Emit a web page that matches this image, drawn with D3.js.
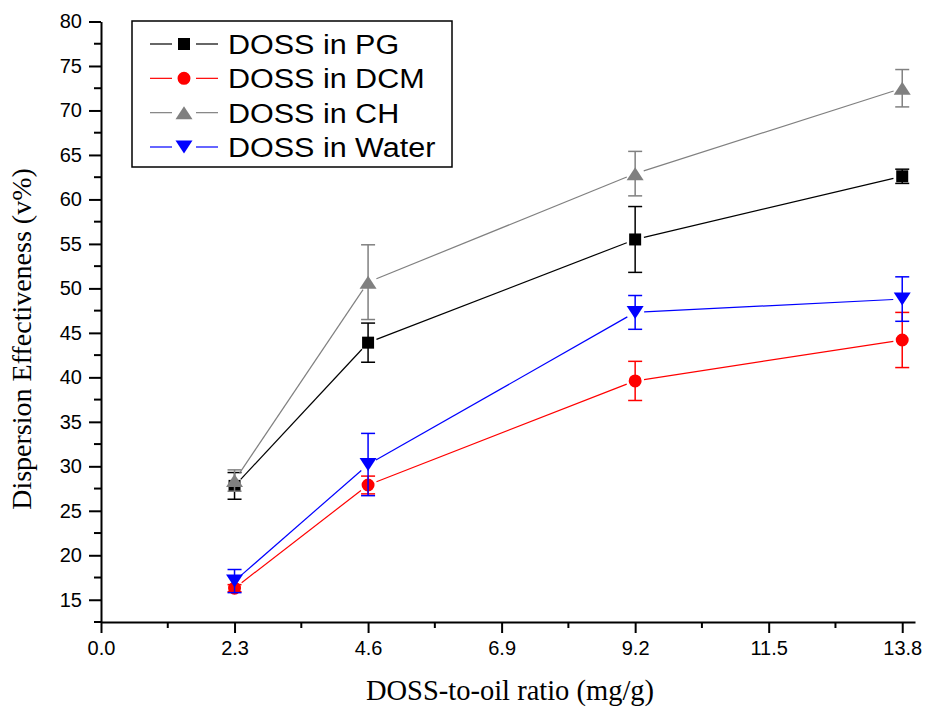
<!DOCTYPE html>
<html>
<head>
<meta charset="utf-8">
<script src="https://cdn.jsdelivr.net/npm/d3@7"></script>
<style>
  body { margin: 0; background: #fff; }
  svg { display: block; }
</style>
</head>
<body>
<div id="chart"></div>
<script>
// data
var ratios = [2.3, 4.6, 9.2, 13.8]
var seriesNames = ["DOSS in PG", "DOSS in DCM", "DOSS in CH", "DOSS in Water"]
var pgValues = [27.8, 43.9, 55.5, 62.6]
var pgErrors = [1.5, 2.2, 3.7, 0.8]
var dcmValues = [16.3, 27.9, 39.6, 44.2]
var dcmErrors = [0.4, 1.0, 2.2, 3.1]
var chValues = [28.4, 50.7, 62.9, 72.5]
var chErrors = [1.2, 4.2, 2.5, 2.1]
var waterValues = [17.1, 30.2, 47.3, 48.8]
var waterErrors = [1.3, 3.5, 1.9, 2.5]
var xTicks = [0, 2.3, 4.6, 6.9, 9.2, 11.5, 13.8]
var yTicks = [15, 20, 25, 30, 35, 40, 45, 50, 55, 60, 65, 70, 75, 80]

var series = [
    { name: seriesNames[0], values: pgValues, errors: pgErrors, color: "#000000", shape: "square" },
    { name: seriesNames[1], values: dcmValues, errors: dcmErrors, color: "#ff0000", shape: "circle" },
    { name: seriesNames[2], values: chValues, errors: chErrors, color: "#808080", shape: "up" },
    { name: seriesNames[3], values: waterValues, errors: waterErrors, color: "#0000ff", shape: "down" }
]

var width = 929, height = 709

var svg = d3.select("#chart")
    .append("svg")
    .attr("width", width)
    .attr("height", height)

var x = d3.scaleLinear().domain([0, 14.02]).range([101, 915])
var y = d3.scaleLinear().domain([12.5, 80]).range([622, 21.5])

// minor ticks sit halfway between the majors
var xMinor = xTicks.slice(0, -1).map(function (d) { return d + 1.15 })
var yMinor = [12.5].concat(yTicks.slice(0, -1).map(function (d) { return d + 2.5 }))

// X axis
var xAxis = svg.append("g")
    .attr("transform", "translate(0," + y(12.5) + ")")
    .call(d3.axisBottom(x).tickValues(xTicks).tickSize(11).tickSizeOuter(0).tickPadding(8)
        .tickFormat(d3.format(".1f")))
xAxis.selectAll(".tick text")
    .style("font-family", "'Liberation Sans', Arial, sans-serif")
    .style("font-size", "20px")
    .attr("fill", "#000")
xAxis.selectAll("line, path").attr("stroke", "#000").attr("stroke-width", 2)
xAxis.append("g").selectAll("line")
    .data(xMinor).enter().append("line")
    .attr("x1", function (d) { return x(d) }).attr("x2", function (d) { return x(d) })
    .attr("y1", 0).attr("y2", 6)
    .attr("stroke", "#000").attr("stroke-width", 2)

// Y axis
var yAxis = svg.append("g")
    .attr("transform", "translate(" + x(0) + ",0)")
    .call(d3.axisLeft(y).tickValues(yTicks).tickSize(12).tickSizeOuter(0).tickPadding(7))
yAxis.selectAll(".tick text")
    .style("font-family", "'Liberation Sans', Arial, sans-serif")
    .style("font-size", "20px")
    .attr("fill", "#000")
yAxis.selectAll("line, path").attr("stroke", "#000").attr("stroke-width", 2)
yAxis.append("g").selectAll("line")
    .data(yMinor).enter().append("line")
    .attr("y1", function (d) { return y(d) }).attr("y2", function (d) { return y(d) })
    .attr("x1", 0).attr("x2", -7)
    .attr("stroke", "#000").attr("stroke-width", 2)

// axis titles
svg.append("text")
    .attr("x", 510).attr("y", 700)
    .attr("text-anchor", "middle")
    .style("font-family", "'Liberation Serif', 'Times New Roman', serif")
    .style("font-size", "28.5px")
    .text("DOSS-to-oil ratio (mg/g)")

svg.append("text")
    .attr("transform", "translate(31,339) rotate(-90)")
    .attr("text-anchor", "middle")
    .style("font-family", "'Liberation Serif', 'Times New Roman', serif")
    .style("font-size", "28px")
    .text("Dispersion Effectiveness (v%)")

function markerPath(shape) {
    if (shape === "square") return "M-6,-6H6V6H-6Z"
    if (shape === "circle") return d3.symbol().type(d3.symbolCircle).size(Math.PI * 42)()
    if (shape === "up") return "M0,-6.5L8.5,6.5H-8.5Z"
    return "M0,6.5L8.5,-6.5H-8.5Z"
}

// lines stop short of the markers, as in the original
var gap = 9
series.forEach(function (s) {
    var g = svg.append("g")
    var pts = s.values.map(function (v, i) { return [x(ratios[i]), y(v)] })

    for (var i = 0; i < pts.length - 1; i++) {
        var a = pts[i], b = pts[i + 1]
        var dx = b[0] - a[0], dy = b[1] - a[1]
        var len = Math.sqrt(dx * dx + dy * dy)
        var ux = dx / len, uy = dy / len
        g.append("line")
            .attr("x1", a[0] + ux * gap).attr("y1", a[1] + uy * gap)
            .attr("x2", b[0] - ux * gap).attr("y2", b[1] - uy * gap)
            .attr("stroke", s.color).attr("stroke-width", 1.2)
    }

    // error bars
    var eb = g.selectAll(".err")
        .data(s.values.map(function (v, i) { return { x: ratios[i], v: v, e: s.errors[i] } }))
        .enter().append("g")
    eb.append("line")
        .attr("x1", function (d) { return x(d.x) }).attr("x2", function (d) { return x(d.x) })
        .attr("y1", function (d) { return y(d.v + d.e) }).attr("y2", function (d) { return y(d.v - d.e) })
        .attr("stroke", s.color).attr("stroke-width", 1.5)
    ;[1, -1].forEach(function (sign) {
        eb.append("line")
            .attr("x1", function (d) { return x(d.x) - 7 }).attr("x2", function (d) { return x(d.x) + 7 })
            .attr("y1", function (d) { return y(d.v + sign * d.e) }).attr("y2", function (d) { return y(d.v + sign * d.e) })
            .attr("stroke", s.color).attr("stroke-width", 1.5)
    })

    g.selectAll(".mark")
        .data(pts).enter().append("path")
        .attr("d", markerPath(s.shape))
        .attr("transform", function (d) { return "translate(" + d[0] + "," + d[1] + ")" })
        .attr("fill", s.color)
})

// legend
var legend = svg.append("g")
legend.append("rect")
    .attr("x", 132).attr("y", 21).attr("width", 320).attr("height", 146)
    .attr("fill", "#fff").attr("stroke", "#000").attr("stroke-width", 1.5)

var rowY = d3.scalePoint().domain(seriesNames).range([44, 147])
series.forEach(function (s) {
    var ly = rowY(s.name)
    legend.append("line").attr("x1", 150).attr("x2", 172).attr("y1", ly).attr("y2", ly)
        .attr("stroke", s.color).attr("stroke-width", 1.2)
    legend.append("line").attr("x1", 196).attr("x2", 218).attr("y1", ly).attr("y2", ly)
        .attr("stroke", s.color).attr("stroke-width", 1.2)
    legend.append("path")
        .attr("d", markerPath(s.shape))
        .attr("transform", "translate(184," + ly + ")")
        .attr("fill", s.color)
    // the original legend text is a little wider than the font's natural width
    legend.append("text")
        .attr("transform", "translate(228," + ly + ") scale(1.09,1)")
        .attr("dy", "0.36em")
        .style("font-family", "'Liberation Sans', Arial, sans-serif")
        .style("font-size", "28px")
        .text(s.name)
})
</script>
</body>
</html>
